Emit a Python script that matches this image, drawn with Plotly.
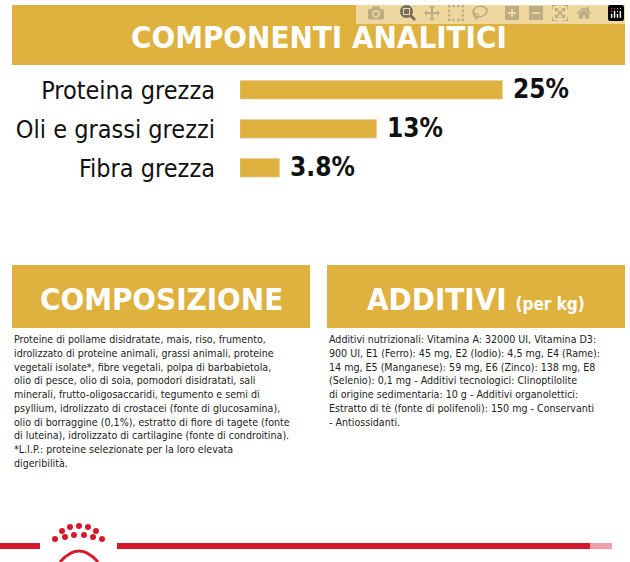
import plotly.graph_objects as go

W, H = 630, 562
GOLD = "#DFB13F"
COND = "DejaVu Sans Condensed, Roboto Condensed, Liberation Sans Narrow, sans-serif"

categories = ["Proteina grezza", "Oli e grassi grezzi", "Fibra grezza"]
values = [25, 13, 3.8]
value_labels = ["25%", "13%", "3.8%"]

composizione = [
    "Proteine di pollame disidratate, mais, riso, frumento,",
    "idrolizzato di proteine animali, grassi animali, proteine",
    "vegetali isolate*, fibre vegetali, polpa di barbabietola,",
    "olio di pesce, olio di soia, pomodori disidratati, sali",
    "minerali, frutto-oligosaccaridi, tegumento e semi di",
    "psyllium, idrolizzato di crostacei (fonte di glucosamina),",
    "olio di borraggine (0,1%), estratto di fiore di tagete (fonte",
    "di luteina), idrolizzato di cartilagine (fonte di condroitina).",
    "*L.I.P.: proteine selezionate per la loro elevata",
    "digeribilità.",
]
additivi = [
    "Additivi nutrizionali: Vitamina A: 32000 UI, Vitamina D3:",
    "900 UI, E1 (Ferro): 45 mg, E2 (Iodio): 4,5 mg, E4 (Rame):",
    "14 mg, E5 (Manganese): 59 mg, E6 (Zinco): 138 mg, E8",
    "(Selenio): 0,1 mg - Additivi tecnologici: Clinoptilolite",
    "di origine sedimentaria: 10 g - Additivi organolettici:",
    "Estratto di tè (fonte di polifenoli): 150 mg - Conservanti",
    "- Antiossidanti.",
]


def px(x):
    return x / W


def py(y):
    return 1 - y / H


fig = go.Figure(go.Bar(
    x=values, y=categories, orientation="h", width=0.47,
    marker_color=GOLD, hoverinfo="skip",
))

fig.update_layout(
    width=W, height=H, margin=dict(l=0, r=0, t=0, b=0),
    paper_bgcolor="white", plot_bgcolor="white", showlegend=False,
    bargap=0,
    xaxis=dict(range=[0, 30], domain=[px(240), px(555)], visible=False),
    yaxis=dict(range=[2.5, -0.5], domain=[py(187.5), py(70.5)],
               showticklabels=True, ticks="", showgrid=False, zeroline=False,
               tickfont=dict(family=COND, size=25, color="#111"),
               ticklabelstandoff=24),
)

shapes = []
annotations = []

# value labels at the bar ends
for v, c, lab in zip(values, categories, value_labels):
    annotations.append(dict(x=v, y=c, xref="x", yref="y", text=f"<b>{lab}</b>",
                            showarrow=False, xanchor="left", xshift=8, yshift=1,
                            font=dict(family=COND, size=26, color="#111")))


def banner(x0, x1, y0, y1, text):
    shapes.append(dict(type="rect", xref="paper", yref="paper",
                       x0=px(x0), x1=px(x1), y0=py(y1), y1=py(y0),
                       fillcolor=GOLD, line_width=0, layer="below"))
    annotations.append(dict(xref="paper", yref="paper", x=px((x0 + x1) / 2),
                            y=py((y0 + y1) / 2 + 2), text=text, showarrow=False,
                            font=dict(family=COND, size=31, color="white"),
                            xanchor="center", yanchor="middle"))


banner(12, 625, 5, 65, "<b>COMPONENTI ANALITICI</b>")
banner(12, 310, 265, 328, "<b>COMPOSIZIONE</b>")
banner(327, 625, 265, 328, "<b>ADDITIVI</b> <b><span style='font-size:17px'>(per kg)</span></b>")

for x, lines in [(12, composizione), (327, additivi)]:
    annotations.append(dict(xref="paper", yref="paper", x=px(x), y=py(331),
                            text="<br>".join(lines), showarrow=False, align="left",
                            xanchor="left", yanchor="top",
                            font=dict(family=COND, size=10.6, color="#222")))

# red footer line
shapes.append(dict(type="rect", xref="paper", yref="paper", x0=0, x1=px(40),
                   y0=py(549), y1=py(543), fillcolor="#D7182A", line_width=0))
shapes.append(dict(type="rect", xref="paper", yref="paper", x0=px(117), x1=px(590),
                   y0=py(549), y1=py(543), fillcolor="#D7182A", line_width=0))
shapes.append(dict(type="rect", xref="paper", yref="paper", x0=px(590), x1=px(612),
                   y0=py(549), y1=py(543), fillcolor="#EFA0A6", line_width=0))
# crown logo dots
for cx, cy, r in [(62, 531, 3), (70, 527, 3), (79, 526, 3), (88, 527, 3), (96, 531, 3),
                  (55, 539, 3), (65, 537, 3), (74, 535, 3), (84, 535, 3), (93, 537, 3), (102, 539, 3)]:
    shapes.append(dict(type="circle", xref="paper", yref="paper",
                       x0=px(cx - r), x1=px(cx + r), y0=py(cy + r), y1=py(cy - r),
                       fillcolor="#D7182A", line_width=0))
shapes.append(dict(type="path", xref="paper", yref="paper",
                   path=f"M {px(60)} {py(562)} Q {px(79)} {py(540)} {px(98)} {py(562)}",
                   line=dict(color="#D7182A", width=3)))

fig.update_layout(shapes=shapes, annotations=annotations)
fig.write_html("out.html", post_script="document.body.style.margin='0';")
